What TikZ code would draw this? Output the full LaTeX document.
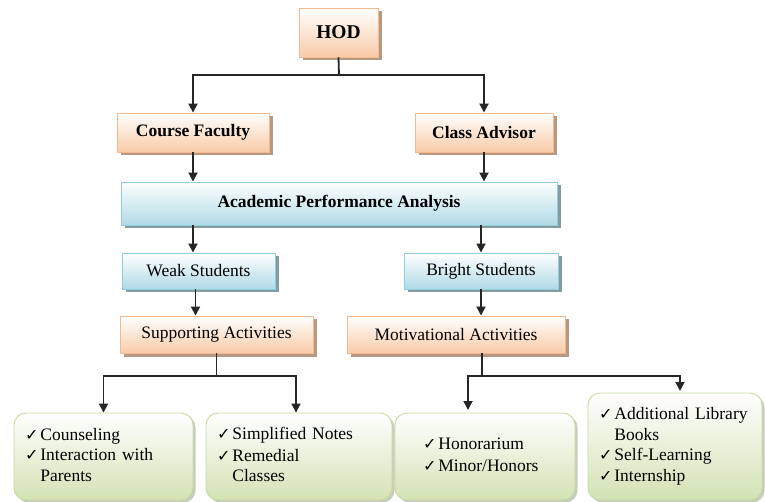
\documentclass[tikz,border=0pt]{standalone}
\usepackage{fontspec}
\setmainfont{Liberation Serif}
\newfontfamily\symfont{DejaVu Sans}
\usetikzlibrary{shadows,arrows.meta}
\definecolor{peachF}{HTML}{F9CBA8}
\definecolor{peachB}{HTML}{F5B98F}
\definecolor{peachS}{HTML}{A8876C}
\definecolor{blueF}{HTML}{B0DAE6}
\definecolor{blueB}{HTML}{93CDDD}
\definecolor{blueS}{HTML}{6F8990}
\definecolor{greenF}{HTML}{D3E2B4}
\definecolor{greenB}{HTML}{C6DAA2}
\definecolor{greenS}{HTML}{A0AB90}
\newcommand{\ck}{{\symfont\fontsize{16}{16}\selectfont ✓}}
\begin{document}
\begin{tikzpicture}[x=1pt,y=-1pt,
  every node/.style={font=\fontsize{17.5}{20.5}\selectfont},
  peachbox/.style={draw=peachB, line width=0.9pt, top color=white, bottom color=peachF,
    drop shadow={shadow xshift=3.5pt,shadow yshift=-3.5pt,fill=peachS,opacity=0.85}},
  bluebox/.style={draw=blueB, line width=0.9pt, top color=white, bottom color=blueF,
    drop shadow={shadow xshift=3.5pt,shadow yshift=-3.5pt,fill=blueS,opacity=0.85}},
  greenbox/.style={draw=greenB, line width=0.9pt, top color=white, bottom color=greenF,
    rounded corners=12pt, align=left, inner ysep=0pt,
    drop shadow={shadow xshift=2.5pt,shadow yshift=-2.5pt,fill=greenS,opacity=0.6}},
  arr/.style={draw=black!85, line width=1.8pt, -{Triangle[width=9pt,length=9pt]}},
  ln/.style={draw=black!85, line width=1.8pt}]
\useasboundingbox (0,0) rectangle (765,502);

\node[peachbox, minimum width=79pt, minimum height=49pt] (hod) at (338.5,32.5) {\fontsize{19.5}{22}\selectfont\bfseries HOD};
\node[peachbox, minimum width=152pt, minimum height=39pt] (cf) at (193,132.5) {\bfseries Course Faculty};
\node[peachbox, minimum width=138pt, minimum height=39pt] (ca) at (484,132.5) {\bfseries Class Advisor};
\node[bluebox, minimum width=436pt, minimum height=43pt] (apa) at (339,203.5) {\bfseries Academic Performance Analysis};
\node[bluebox, minimum width=153pt, minimum height=36pt] (weak) at (198.5,271) {Weak Students};
\node[bluebox, minimum width=154pt, minimum height=36pt] (bright) at (481,271) {Bright Students};
\node[peachbox, minimum width=193pt, minimum height=37pt] (sup) at (216.5,334.5) {Supporting Activities};
\node[peachbox, minimum width=218pt, minimum height=37pt] (mot) at (456,334.5) {Motivational Activities};

\node[greenbox, minimum height=87pt, text width=157pt, inner xsep=11pt] (b1) at (103.5,456.5)
  {\begin{tabular}{@{}l@{\hspace{2pt}}l@{}}\ck & Counseling\\ \ck & Interaction with\\ & Parents\end{tabular}};
\node[greenbox, minimum height=87pt, text width=164pt, inner xsep=11pt] (b2) at (299,456.5)
  {\begin{tabular}{@{}l@{\hspace{2pt}}l@{}}\ck & Simplified Notes\\[1pt] \ck & Remedial\\ & Classes\end{tabular}};
\node[greenbox, minimum height=87pt, text width=124pt, inner xsep=28pt] (b3) at (485,456.5)
  {\begin{tabular}{@{}l@{\hspace{2pt}}l@{}}\ck & Honorarium\\[1pt] \ck & Minor/Honors\end{tabular}};
\node[greenbox, minimum height=107pt, text width=152pt, inner xsep=11pt] (b4) at (675,446.5)
  {\begin{tabular}{@{}l@{\hspace{2pt}}l@{}}\ck & Additional Library\\ & Books\\ \ck & Self-Learning\\ \ck & Internship\end{tabular}};

\coordinate (j1) at (339,75);
\coordinate (j2) at (216.5,376);
\coordinate (j3) at (482,376);
\coordinate (e3) at (468,410);
\coordinate (e4) at (680,391);

\draw[ln] (hod.south) -- (j1);
\draw[arr] (j1) -| (cf.north);
\draw[arr] (j1) -| (ca.north);
\draw[arr] (cf.south) -- (cf.south |- apa.north);
\draw[arr] (ca.south) -- (ca.south |- apa.north);
\draw[arr] (cf.south |- apa.south) -- (cf.south |- weak.north);
\draw[arr] (bright.north |- apa.south) -- (bright.north);
\draw[arr] ([xshift=-3pt]weak.south) -- ([xshift=-3pt]weak.south |- sup.north);
\draw[arr] (bright.south) -- (bright.south |- mot.north);
\draw[ln] (sup.south) -- (j2);
\draw[arr] (j2) -| (b1.north);
\draw[arr] (j2) -| ([xshift=-3pt]b2.north);
\draw[ln] (mot.south -| j3) -- (j3);
\draw[arr] (j3) -| (e3);
\draw[arr] (j3) -| (e4);
\end{tikzpicture}
\end{document}
